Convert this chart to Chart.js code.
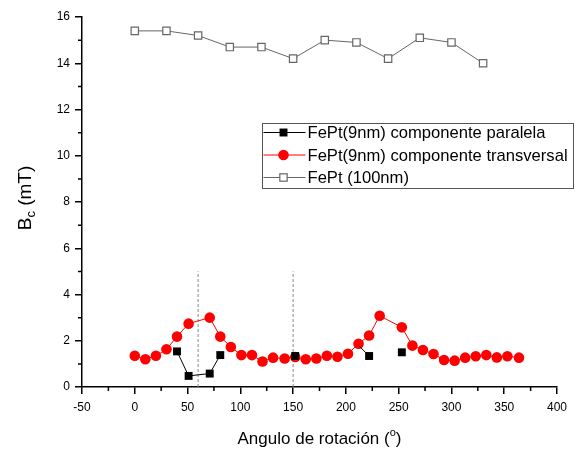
<!DOCTYPE html>
<html>
<head>
<meta charset="utf-8">
<script src="https://cdn.jsdelivr.net/npm/chart.js@4.4.1/dist/chart.umd.min.js"></script>
<style>
  body { margin: 0; background: #fff; }
  #wrap { width: 576px; height: 450px; }
</style>
</head>
<body>
<div id="wrap"><canvas id="bcChart" width="576" height="450"></canvas></div>
<script>
// FePt(9nm) componente paralela
const paraAngle = [40, 51, 71, 81, 142, 152, 202, 212, 222, 232, 253];
const paraBc = [1.54, 0.48, 0.58, 1.38, null, 1.34, null, 1.8, 1.34, null, 1.50];
// this one sits under a red circle in the original, only its line shows
const hiddenParaAngle = 212;

// FePt(9nm) componente transversal
const transAngle = [0, 10, 20, 30, 40, 51, 71, 81, 91, 101, 111, 121, 131, 142,
  152, 162, 172, 182, 192, 202, 212, 222, 232, 253, 263, 273, 283, 293, 303,
  313, 323, 333, 343, 353, 364];
const transBc = [1.35, 1.20, 1.35, 1.63, 2.18, 2.74, 3.00, 2.18, 1.73, 1.38, 1.38, 1.10, 1.27, 1.23,
  1.30, 1.20, 1.23, 1.35, 1.31, 1.44, 1.87, 2.23, 3.08, 2.58, 1.79, 1.60, 1.43, 1.17, 1.14,
  1.27, 1.33, 1.38, 1.28, 1.33, 1.27];

// FePt (100nm)
const bulkAngle = [0, 30, 60, 90, 120, 150, 180, 210, 240, 270, 300, 330];
const bulkBc = [15.4, 15.4, 15.2, 14.7, 14.7, 14.2, 15.0, 14.9, 14.2, 15.1, 14.9, 14.0];

// dashed reference lines
const markerAngle = [60, 150];
const markerTop = 5;

const seriesLabels = ['FePt(9nm) componente paralela', 'FePt(9nm) componente transversal', 'FePt (100nm)'];

function pts(xs, ys) {
    return xs.map((x, i) => ({ x: x, y: ys[i] }));
}

const datasets = [
    { label: seriesLabels[0], data: pts(paraAngle, paraBc), borderColor: '#000', backgroundColor: '#000',
      borderWidth: 1, pointStyle: 'rect', pointBorderWidth: 0, spanGaps: false,
      pointRadius: ctx => (ctx.raw && ctx.raw.x === hiddenParaAngle) ? 0 : 5.6 },
    { label: seriesLabels[1], data: pts(transAngle, transBc), borderColor: '#f00', backgroundColor: '#f00',
      borderWidth: 1, pointStyle: 'circle', pointRadius: 5.3, pointBorderWidth: 0 },
    { label: seriesLabels[2], data: pts(bulkAngle, bulkBc), borderColor: '#666', backgroundColor: '#fff',
      borderWidth: 1, pointStyle: 'rect', pointRadius: 5.2, pointBorderWidth: 1.2, pointBorderColor: '#666' }
];
markerAngle.forEach(a => {
    datasets.push({ label: 'ref', data: [{ x: a, y: 0 }, { x: a, y: markerTop }], borderColor: '#888',
        borderWidth: 1, borderDash: [3, 2], pointRadius: 0 });
});

// minor ticks, axis titles, legend box
const extras = {
    id: 'extras',
    afterDraw(chart) {
        const c = chart.ctx;
        const xs = chart.scales.x, ys = chart.scales.y;
        const area = chart.chartArea;
        c.save();
        c.strokeStyle = '#000';
        c.lineWidth = 1.5;
        c.beginPath();
        for (let v = 1; v < 16; v += 2) {
            const py = ys.getPixelForValue(v);
            c.moveTo(area.left, py); c.lineTo(area.left - 4, py);
        }
        for (let v = -25; v < 400; v += 50) {
            const px = xs.getPixelForValue(v);
            c.moveTo(px, area.bottom); c.lineTo(px, area.bottom + 4);
        }
        c.stroke();

        // x title with superscript
        c.fillStyle = '#000';
        c.textBaseline = 'alphabetic';
        const big = '17px "Liberation Sans", Arial, sans-serif';
        const sup = '11px "Liberation Sans", Arial, sans-serif';
        c.font = big;
        const t1 = 'Angulo de rotación (', t3 = ')';
        const w1 = c.measureText(t1).width, w3 = c.measureText(t3).width;
        c.font = sup;
        const w2 = c.measureText('o').width;
        let x0 = (area.left + area.right) / 2 - (w1 + w2 + w3) / 2;
        const by = 444;
        c.font = big; c.textAlign = 'left';
        c.fillText(t1, x0, by);
        c.font = sup; c.fillText('o', x0 + w1, by - 8);
        c.font = big; c.fillText(t3, x0 + w1 + w2, by);

        // y title with subscript
        const yb = '19px "Liberation Sans", Arial, sans-serif';
        const ysub = '13px "Liberation Sans", Arial, sans-serif';
        c.font = yb;
        const a1 = c.measureText('B').width, a3 = c.measureText(' (mT)').width;
        c.font = ysub;
        const a2 = c.measureText('c').width;
        c.translate(31, 198);
        c.rotate(-Math.PI / 2);
        let s = -(a1 + a2 + a3) / 2;
        c.font = yb; c.fillText('B', s, 0);
        c.font = ysub; c.fillText('c', s + a1, 4);
        c.font = yb; c.fillText(' (mT)', s + a1 + a2, 0);
        c.restore();

        // legend
        c.save();
        const lx = 262.5, ly = 123.5, lw = 311, lh = 65;
        c.fillStyle = '#fff';
        c.fillRect(lx, ly, lw, lh);
        c.strokeStyle = '#555';
        c.lineWidth = 1;
        c.strokeRect(lx, ly, lw, lh);
        const rows = [132.5, 155, 177.5];
        c.font = '16.6px "Liberation Sans", Arial, sans-serif';
        c.textBaseline = 'middle';
        c.textAlign = 'left';
        for (let i = 0; i < 3; i++) {
            const ds = chart.data.datasets[i];
            const ry = rows[i];
            const rad = typeof ds.pointRadius === 'number' ? ds.pointRadius : 5.6;
            c.strokeStyle = ds.borderColor;
            c.lineWidth = 1;
            c.beginPath();
            c.moveTo(lx + 1, ry); c.lineTo(lx + 43, ry);
            c.stroke();
            const mx = lx + 21;
            if (ds.pointStyle === 'circle') {
                c.fillStyle = ds.backgroundColor;
                c.beginPath(); c.arc(mx, ry, rad, 0, Math.PI * 2); c.fill();
            } else {
                const h = rad * Math.SQRT1_2;
                c.fillStyle = ds.backgroundColor;
                c.fillRect(mx - h, ry - h, 2 * h, 2 * h);
                if (ds.pointBorderWidth) {
                    c.strokeStyle = ds.pointBorderColor;
                    c.lineWidth = ds.pointBorderWidth;
                    c.strokeRect(mx - h, ry - h, 2 * h, 2 * h);
                }
            }
            c.fillStyle = '#000';
            c.fillText(ds.label, lx + 45, ry + 1);
        }
        c.restore();
    }
};

const tickFont = { family: '"Liberation Sans", Arial, sans-serif', size: 12 };

new Chart(document.getElementById('bcChart'), {
    type: 'line',
    data: { datasets: datasets },
    options: {
        responsive: false,
        animation: false,
        layout: { padding: { left: 0, top: 17, right: 19, bottom: 0 } },
        plugins: { legend: { display: false }, tooltip: { enabled: false } },
        scales: {
            x: {
                type: 'linear', min: -50, max: 400,
                ticks: { stepSize: 50, color: '#000', font: tickFont, padding: 6, maxRotation: 0 },
                grid: { drawOnChartArea: false, drawTicks: true, tickLength: 7, color: '#000', lineWidth: 1.5 },
                border: { color: '#000', width: 1.5 },
                afterFit(scale) { scale.height = 63; }
            },
            y: {
                type: 'linear', min: 0, max: 16,
                ticks: { stepSize: 2, color: '#000', font: tickFont, padding: 5 },
                grid: { drawOnChartArea: false, drawTicks: true, tickLength: 7, color: '#000', lineWidth: 1.5 },
                border: { color: '#000', width: 1.5 },
                afterFit(scale) { scale.width = 82; }
            }
        }
    },
    plugins: [extras]
});
</script>
</body>
</html>
